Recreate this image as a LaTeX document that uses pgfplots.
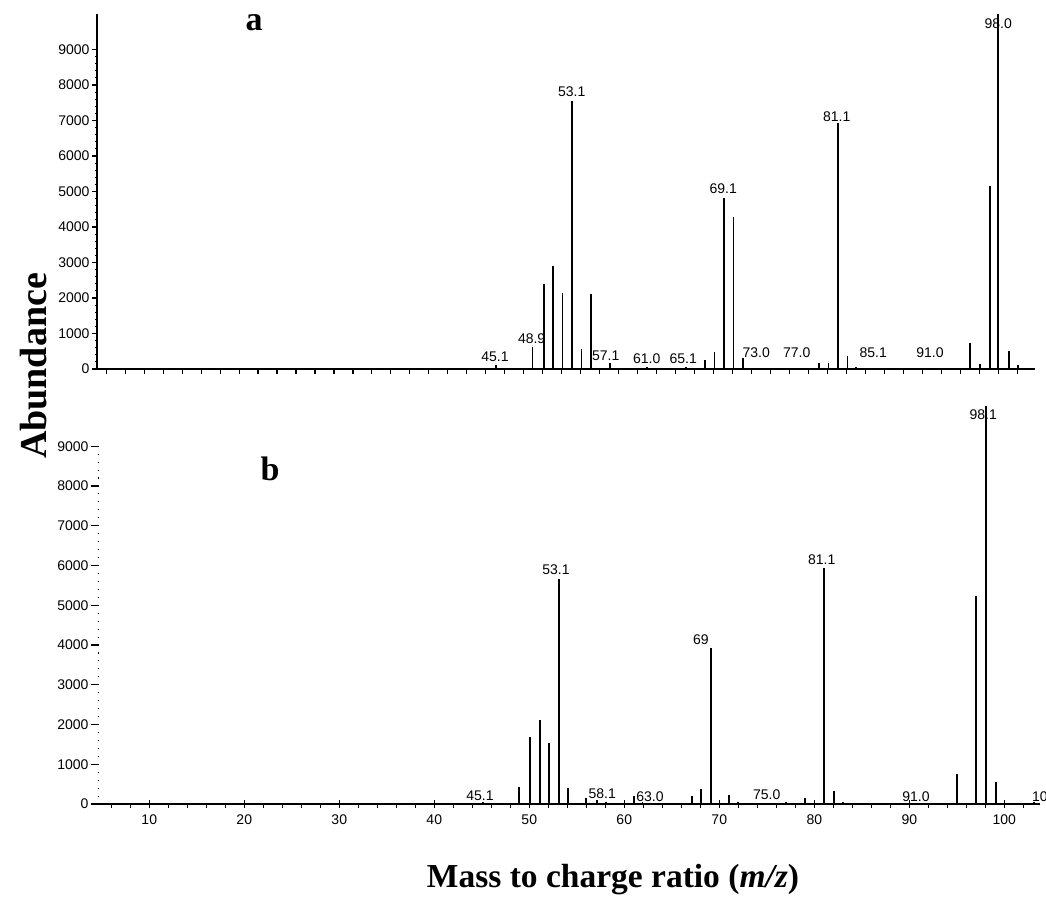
\documentclass[border=0pt]{standalone}
\usepackage{fontspec}
\setmainfont{Liberation Serif}
\newfontfamily\sansf{Liberation Sans}
\usepackage{pgfplots}
\pgfplotsset{compat=1.18}
\newcommand\tl{\sansf\fontsize{14}{16}\selectfont}
\begin{document}
\begin{tikzpicture}
\path[use as bounding box] (0,0) rectangle (1046pt,916pt);
\tikzset{lab/.style={font=\tl, inner sep=0pt}}
\pgfplotsset{
  ms/.style={
    scale only axis, enlargelimits=false, clip=false,
    axis x line*=bottom, axis y line*=left,
    x axis line style={-, line width=1.4pt},
    y axis line style={-, line width=1.4pt},
    ymin=0, ymax=10000,
    ytick={0,1000,2000,3000,4000,5000,6000,7000,8000,9000},
    minor y tick num=4,
    scaled y ticks=false, scaled x ticks=false,
    /pgf/number format/assume math mode=true,
    /pgf/number format/set thousands separator={},
    tick label style={font=\tl},
    every tick/.style={black, line width=1.1pt},
    tick align=outside,
    major tick length=5pt, minor tick length=2.5pt,
    yticklabel style={xshift=1pt},
  },
  peaks/.style={ycomb, black, line width=1.6pt, mark=none},
}
% ---------- panel a ----------
\begin{axis}[ms, at={(97pt,547pt)}, anchor=south west,
  width=938pt, height=355pt, xmin=3.03, xmax=101.87,
  xtick={4,6,8,10,12,14,16,18,20,22,24,26,28,30,32,34,36,38,40,42,44,46,48,50,52,54,56,58,60,62,64,66,68,70,72,74,76,78,80,82,84,86,88,90,92,94,96,98,100},
  xticklabels={}]
\addplot[peaks] coordinates {
 (45.1,110) (48.9,630) (50.1,2400) (51.1,2910) (52.1,2140) (53.1,7560)
 (54.1,555) (55.1,2100) (57.1,180) (61.0,60) (65.1,50) (67.1,250)
 (68.1,480) (69.1,4830) (70.1,4280) (71.1,320) (73.0,40) (77.0,40)
 (79.1,170) (80.1,180) (81.1,6940) (82.1,370) (83.0,60) (85.1,40)
 (91.0,40) (95.0,730) (96.1,130) (97.1,5160) (98.0,10000) (99.1,515)
 (100.1,100)};
\node[lab] at (axis cs:44.97,338) {45.1};
\node[lab] at (axis cs:48.83,845) {48.9};
\node[lab] at (axis cs:53.05,7811) {53.1};
\node[lab] at (axis cs:56.63,375) {57.1};
\node[lab] at (axis cs:60.95,282) {61.0};
\node[lab] at (axis cs:64.81,282) {65.1};
\node[lab] at (axis cs:69.02,5070) {69.1};
\node[lab] at (axis cs:72.5,470) {73.0};
\node[lab] at (axis cs:76.76,470) {77.0};
\node[lab] at (axis cs:80.97,7107) {81.1};
\node[lab] at (axis cs:84.83,470) {85.1};
\node[lab] at (axis cs:90.8,470) {91.0};
\node[lab] at (axis cs:98.0,9738) {98.0};
\end{axis}
% ---------- panel b ----------
\begin{axis}[ms, at={(99pt,112pt)}, anchor=south west,
  width=941pt, height=397.5pt, xmin=4.71, xmax=103.76,
  y axis line style={draw=none},
  minor tick length=1.5pt,
  xtick={10,20,30,40,50,60,70,80,90,100}, xtick align=center, major tick length=8pt,
  extra x ticks={6,8,12,14,16,18,22,24,26,28,32,34,36,38,42,44,46,48,52,54,56,58,62,64,66,68,72,74,76,78,82,84,86,88,92,94,96,98,102},
  extra x tick labels={},
  extra x tick style={xtick align=outside, major tick length=4pt},
  xticklabel style={yshift=-3pt}]
\addplot[peaks] coordinates {
 (45.1,40) (48.9,435) (50.1,1680) (51.1,2110) (52.1,1525) (53.1,5660)
 (54.1,410) (56.0,150) (57.1,100) (58.1,60) (61.0,200) (61.9,60)
 (67.1,200) (68.1,370) (69.1,3920) (71.0,225) (72.0,50) (77.0,40)
 (79.0,150) (81.0,5930) (82.1,330) (83.0,50) (95.0,755) (97.0,5230)
 (98.1,10000) (99.1,560) (103.1,40)};
\node[lab] at (axis cs:44.81,200) {45.1};
\node[lab] at (axis cs:52.81,5887) {53.1};
\node[lab] at (axis cs:57.68,252) {58.1};
\node[lab] at (axis cs:62.7,184) {63.0};
\node[lab] at (axis cs:68.07,4143) {69};
\node[lab] at (axis cs:74.99,226) {75.0};
\node[lab] at (axis cs:80.78,6156) {81.1};
\node[lab] at (axis cs:90.7,184) {91.0};
\node[lab] at (axis cs:97.79,9786) {98.1};
\node[lab, anchor=west] at (axis cs:102.9,176) {10};
\end{axis}
% ---------- texts ----------
\node[font=\bfseries\fontsize{34}{38}\selectfont] at (254pt,893pt) {a};
\node[font=\bfseries\fontsize{34}{38}\selectfont] at (270pt,447pt) {b};
\node[rotate=90, font=\bfseries\fontsize{38}{42}\selectfont] at (34pt,550pt) {Abundance};
\node[font=\bfseries\fontsize{33.5}{38}\selectfont] at (613pt,36pt) {Mass to charge ratio (\textit{m/z})};
\end{tikzpicture}
\end{document}
